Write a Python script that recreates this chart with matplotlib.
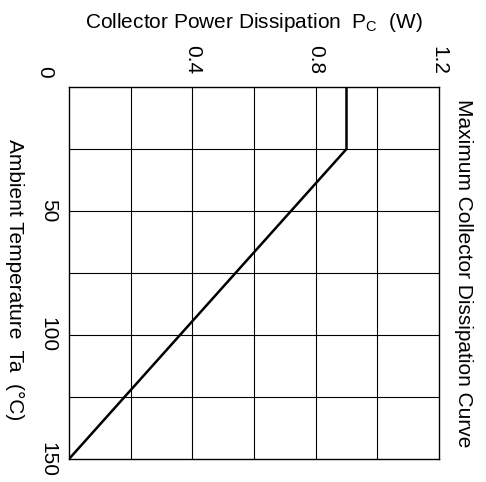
import matplotlib
matplotlib.use('Agg')
import matplotlib.pyplot as plt

plt.rcParams['font.family'] = ['Liberation Sans', 'DejaVu Sans']
plt.rcParams['mathtext.fontset'] = 'custom'
plt.rcParams['mathtext.rm'] = 'Liberation Sans'

# derating curve: ambient temperature (C) vs max collector power (W)
temp = [0, 25, 150]
power = [0.9, 0.9, 0.0]

power_ticks = [0.4, 0.8, 1.2]
power_tick_labels = ['0.4', '0.8', '1.2']
temp_ticks = [50, 100, 150]
temp_tick_labels = ['50', '100', '150']

fig = plt.figure(figsize=(4.86, 4.82), dpi=100)
ax = fig.add_axes([69 / 486, 1 - 459 / 482, 370 / 486, 372 / 482])

# chart is drawn rotated: power runs left->right, temperature top->bottom
ax.plot(power, temp, color='black', linewidth=1.8, solid_joinstyle='miter')
ax.set_xlim(0, 1.2)
ax.set_ylim(150, 0)

ax.xaxis.tick_top()
ax.set_xticks(power_ticks)
ax.set_xticklabels(power_tick_labels, rotation=-90, va='bottom', ha='center')
ax.set_yticks(temp_ticks)
ax.set_yticklabels(temp_tick_labels, rotation=-90, va='center', ha='center')

# grid every 0.2 W and every 25 C
for p in [0.2 * i for i in range(1, 6)]:
    ax.axvline(p, color='black', linewidth=0.8, zorder=1)
for t in [25 * i for i in range(1, 6)]:
    ax.axhline(t, color='black', linewidth=0.8, zorder=1)

ax.tick_params(which='both', length=0)
ax.tick_params(axis='x', pad=9, labelsize=15)
ax.tick_params(axis='y', pad=15, labelsize=15)
for s in ax.spines.values():
    s.set_linewidth(1.0)

# shared origin label at the corner
fig.text(45 / 486, 1 - 72 / 482, '0', fontsize=15, rotation=-90,
         ha='center', va='center')

fig.text(254 / 486, 1 - 22 / 482, 'Collector Power Dissipation  P$_\\mathrm{C}$  (W)',
         fontsize=15, ha='center', va='center')
fig.text(15 / 486, 1 - 280 / 482, 'Ambient Temperature  Ta  (°C)', fontsize=15,
         rotation=-90, ha='center', va='center')
fig.text(463 / 486, 1 - 273 / 482, 'Maximum Collector Dissipation Curve', fontsize=15,
         rotation=-90, ha='center', va='center')

fig.savefig('out.png', dpi=100)
